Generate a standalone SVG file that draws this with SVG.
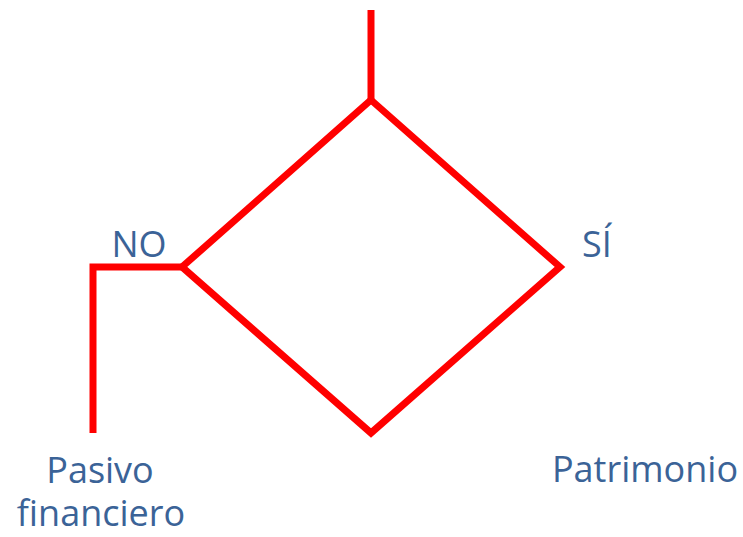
<svg xmlns="http://www.w3.org/2000/svg" width="743" height="537" viewBox="0 0 743 537">
<style>
.ln{fill:none;stroke:#FF0000;stroke-width:7;stroke-linejoin:miter}
.t{font-family:"Open Sans","Liberation Sans",sans-serif;font-size:36px;fill:#3B6397;text-anchor:middle}
</style>
<rect width="743" height="537" fill="#FFFFFF"/>
<g id="connectors">
<line class="ln" x1="371" y1="10" x2="371" y2="100"/>
<polyline class="ln" points="182,267 93,267 93,433"/>
</g>
<g id="decision">
<polygon class="ln" points="371,100 560,267 371,433 182,267"/>
</g>
<g id="label-no"><text class="t" x="139" y="257">NO</text></g>
<g id="label-si"><text class="t" x="597" y="257">SÍ</text></g>
<g id="pasivo"><text class="t" x="100" y="483">Pasivo</text><text class="t" x="101" y="526">financiero</text></g>
<g id="patrimonio"><text class="t" x="645" y="482">Patrimonio</text></g>
</svg>
